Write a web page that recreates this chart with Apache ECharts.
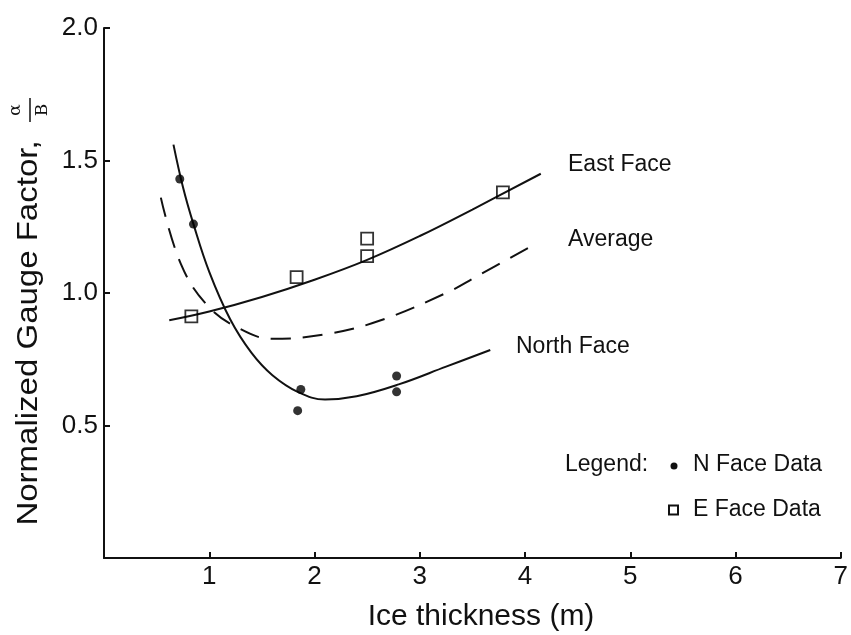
<!DOCTYPE html>
<html>
<head>
<meta charset="utf-8">
<script src="https://cdn.jsdelivr.net/npm/echarts@6/dist/echarts.min.js"></script>
<style>html,body{margin:0;padding:0;background:#fff}#c{width:851px;height:635px}</style>
</head>
<body>
<div id="c"></div>
<script>
// ---- data ----
var xTicks = [1, 2, 3, 4, 5, 6, 7];
var yTicks = [0.5, 1.0, 1.5, 2.0];

var nFaceData = [[0.72, 1.43], [0.85, 1.26], [1.87, 0.636], [1.84, 0.556], [2.78, 0.687], [2.78, 0.627]];
var eFaceData = [[0.83, 0.912], [1.83, 1.06], [2.5, 1.205], [2.5, 1.139], [3.79, 1.38]];

var eastCurve = [[0.62, 0.897], [1.0, 0.93], [1.5, 0.985], [2.0, 1.05], [2.5, 1.125], [3.0, 1.215],
                 [3.5, 1.315], [4.15, 1.45]];
var northCurve = [[0.66, 1.56], [0.75, 1.40], [0.85, 1.26], [1.0, 1.08], [1.2, 0.90], [1.4, 0.775],
                  [1.6, 0.69], [1.85, 0.625], [2.1, 0.598], [2.4, 0.61], [2.8, 0.655], [3.25, 0.722],
                  [3.67, 0.785]];
var avgCurve = [[0.54, 1.36], [0.73, 1.11], [0.98, 0.954], [1.29, 0.865], [1.6, 0.827], [2.13, 0.846],
                [2.63, 0.897], [3.25, 1.0], [3.53, 1.06], [4.12, 1.19]];

var curveNames = ['East Face', 'Average', 'North Face'];
var legendNames = ['N Face Data', 'E Face Data'];
var xTitle = 'Ice thickness (m)';
var yTitle = 'Normalized Gauge Factor,';

// ---- chart ----
var FONT = '"Liberation Sans", Arial, Helvetica, sans-serif';
var chart = echarts.init(document.getElementById('c'), null, {renderer: 'canvas'});

function lineSeries(data, dashed) {
  return {
    type: 'line', data: data, smooth: 0.4, showSymbol: false, symbol: 'none',
    lineStyle: {color: '#111', width: 2, type: dashed ? [20, 12] : 'solid'},
    z: 2, silent: true, animation: false
  };
}

chart.setOption({
  backgroundColor: '#fff',
  animation: false,
  grid: {left: 104, right: 4, top: 28, bottom: 77, containLabel: false},
  xAxis: {
    type: 'value', min: 0, max: 7, interval: 1,
    axisLine: {show: true, lineStyle: {color: '#111', width: 2}},
    axisTick: {show: true, inside: true, length: 6, lineStyle: {color: '#111', width: 2}},
    axisLabel: {
      color: '#111', fontSize: 26, fontFamily: FONT, margin: 6,
      formatter: function (v) { return xTicks.indexOf(v) >= 0 ? String(v) : ''; }
    },
    splitLine: {show: false}
  },
  yAxis: {
    type: 'value', min: 0, max: 2, interval: 0.5,
    axisLine: {show: true, lineStyle: {color: '#111', width: 2}},
    axisTick: {show: true, inside: true, length: 6, lineStyle: {color: '#111', width: 2}},
    axisLabel: {
      color: '#111', fontSize: 26, fontFamily: FONT, margin: 6,
      formatter: function (v) { return yTicks.indexOf(v) >= 0 ? v.toFixed(1) : ''; }
    },
    splitLine: {show: false}
  },
  series: [
    lineSeries(eastCurve, false),
    lineSeries(avgCurve, true),
    lineSeries(northCurve, false),
    {
      name: legendNames[0], type: 'scatter', data: nFaceData, symbol: 'circle', symbolSize: 9,
      itemStyle: {color: '#000'}, z: 3
    },
    {
      name: legendNames[1], type: 'scatter', data: eFaceData, symbol: 'rect', symbolSize: 12,
      itemStyle: {color: 'rgba(255,255,255,0)', borderColor: '#000', borderWidth: 1.8}, z: 3
    }
  ],
  graphic: [
    // axis titles
    {type: 'text', x: 481, y: 617, style: {text: xTitle, font: '30px ' + FONT, fill: '#111', textAlign: 'center', textVerticalAlign: 'middle'}},
    {type: 'text', x: 29, y: 333, rotation: Math.PI / 2, scaleX: 1.1,
     style: {text: yTitle, font: '30px ' + FONT, fill: '#111', textAlign: 'center', textVerticalAlign: 'middle'}},
    {type: 'group', x: 30, y: 110, rotation: Math.PI / 2, children: [
      {type: 'text', x: 0, y: -14, style: {text: 'α', font: '17px "DejaVu Serif", serif', fill: '#111', textAlign: 'center', textVerticalAlign: 'middle'}},
      {type: 'line', shape: {x1: -12, y1: 0, x2: 12, y2: 0}, style: {stroke: '#111', lineWidth: 1.5}},
      {type: 'text', x: 0, y: 13, style: {text: 'B', font: '17px "DejaVu Serif", serif', fill: '#111', textAlign: 'center', textVerticalAlign: 'middle'}}
    ]},
    // curve labels
    {type: 'text', x: 568, y: 165, style: {text: curveNames[0], font: '23px ' + FONT, fill: '#111', textAlign: 'left', textVerticalAlign: 'middle'}},
    {type: 'text', x: 568, y: 240, style: {text: curveNames[1], font: '23px ' + FONT, fill: '#111', textAlign: 'left', textVerticalAlign: 'middle'}},
    {type: 'text', x: 516, y: 347, style: {text: curveNames[2], font: '23px ' + FONT, fill: '#111', textAlign: 'left', textVerticalAlign: 'middle'}},
    // legend
    {type: 'text', x: 565, y: 465, style: {text: 'Legend:', font: '23px ' + FONT, fill: '#111', textAlign: 'left', textVerticalAlign: 'middle'}},
    {type: 'circle', shape: {cx: 674, cy: 466, r: 3.5}, style: {fill: '#111'}},
    {type: 'text', x: 693, y: 465, style: {text: legendNames[0], font: '23px ' + FONT, fill: '#111', textAlign: 'left', textVerticalAlign: 'middle'}},
    {type: 'rect', shape: {x: 669, y: 505.5, width: 9, height: 9}, style: {fill: '#fff', stroke: '#111', lineWidth: 2}},
    {type: 'text', x: 693, y: 510, style: {text: legendNames[1], font: '23px ' + FONT, fill: '#111', textAlign: 'left', textVerticalAlign: 'middle'}}
  ]
});
</script>
</body>
</html>
